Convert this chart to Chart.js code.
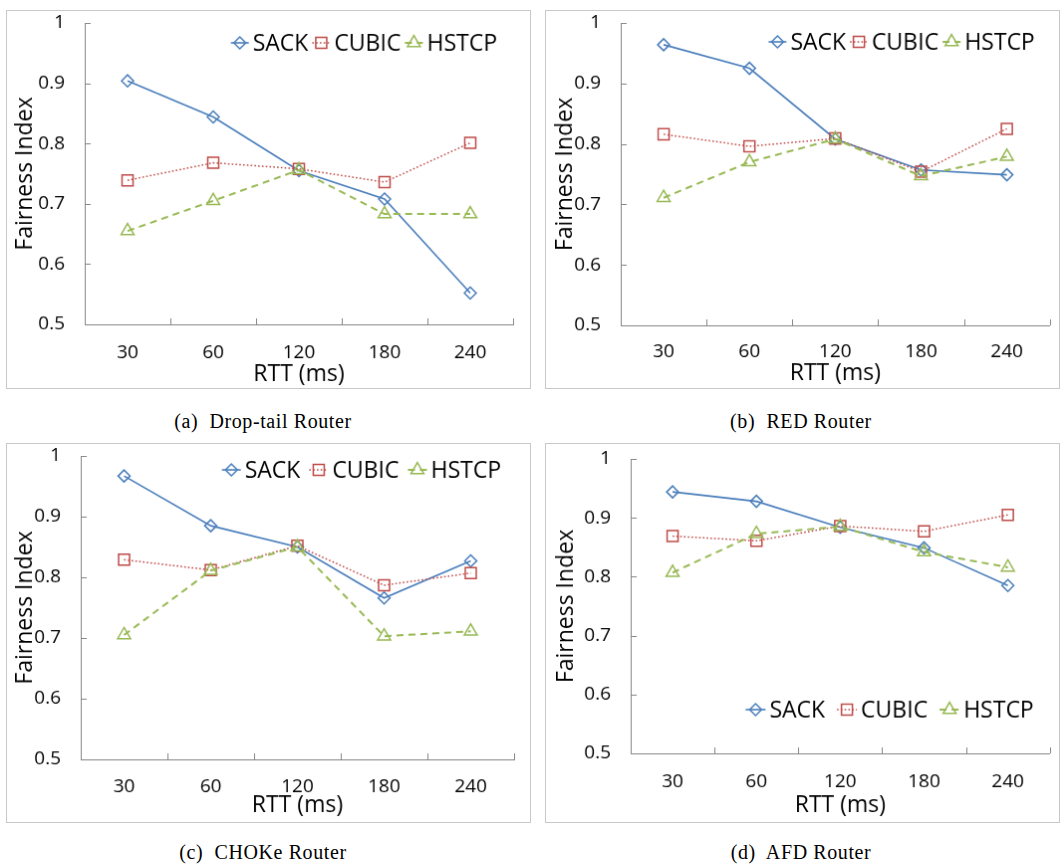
<!DOCTYPE html>
<html>
<head>
<meta charset="utf-8">
<script src="https://cdn.jsdelivr.net/npm/chart.js@4.4.1/dist/chart.umd.min.js"></script>
<style>
  html, body { margin: 0; padding: 0; background: #fff; }
  body { width: 1062px; height: 867px; position: relative; overflow: hidden; }
  canvas.panel { position: absolute; border: 1px solid #c8c8c8; }
  .cap { position: absolute; width: 400px; text-align: center; font-family: "Liberation Serif", "DejaVu Serif", serif;
         font-size: 20px; letter-spacing: 0.6px; color: #000; line-height: 24px; white-space: pre; }
</style>
</head>
<body>
<canvas class="panel" id="ca"></canvas>
<canvas class="panel" id="cb"></canvas>
<canvas class="panel" id="cc"></canvas>
<canvas class="panel" id="cd"></canvas>
<div class="cap" id="capa">(a)  Drop-tail Router</div>
<div class="cap" id="capb">(b)  RED Router</div>
<div class="cap" id="capc">(c)  CHOKe Router</div>
<div class="cap" id="capd">(d)  AFD Router</div>
<script>
// ---------------- DATA ----------------
const categories = ['30', '60', '120', '180', '240'];
const yTickLabels = ['0.5', '0.6', '0.7', '0.8', '0.9', '1'];
const seriesNames = ['SACK', 'CUBIC', 'HSTCP'];
const xAxisTitle = 'RTT (ms)';
const yAxisTitle = 'Fairness Index';

const dropTailSACK  = [0.904, 0.844, 0.755, 0.708, 0.552];
const dropTailCUBIC = [0.739, 0.768, 0.758, 0.736, 0.801];
const dropTailHSTCP = [0.655, 0.705, 0.756, 0.683, 0.683];

const redSACK  = [0.964, 0.925, 0.808, 0.757, 0.749];
const redCUBIC = [0.816, 0.796, 0.809, 0.754, 0.825];
const redHSTCP = [0.711, 0.770, 0.808, 0.747, 0.779];

const chokeSACK  = [0.967, 0.885, 0.850, 0.766, 0.827];
const chokeCUBIC = [0.829, 0.812, 0.852, 0.787, 0.807];
const chokeHSTCP = [0.705, 0.811, 0.850, 0.703, 0.711];

const afdSACK  = [0.944, 0.928, 0.884, 0.849, 0.785];
const afdCUBIC = [0.869, 0.861, 0.886, 0.877, 0.905];
const afdHSTCP = [0.807, 0.873, 0.885, 0.842, 0.816];

// ---------------- STYLE / LAYOUT ----------------
const seriesStyle = [
  { color: '#4A7EBB', dash: [],         width: 1.6, point: 'rectRot',  radius: 6   },
  { color: '#BE4B48', dash: [1.6, 2.2], width: 1.5, point: 'rect',     radius: 7.8 },
  { color: '#98B954', dash: [7, 5],     width: 2,   point: 'triangle', radius: 7.5 }
];

const panels = [
  { canvas: 'ca', cap: 'capa', capX: 263, capY: 421, frame: [6, 10, 527, 381],  area: [85, 23, 515, 326],
    legend: { pos: 'top', dy: 20, dx: 16, sym: 18, gap: 4 }, xLabelY: 355, xTitleY: 376, yTitleX: 25,
    data: [dropTailSACK, dropTailCUBIC, dropTailHSTCP] },
  { canvas: 'cb', cap: 'capb', capX: 801, capY: 421, frame: [545, 10, 517, 381], area: [621, 23, 1056, 327],
    legend: { pos: 'top', dy: 19, dx: 15, sym: 18, gap: 4 }, xLabelY: 354, xTitleY: 375, yTitleX: 565,
    data: [redSACK, redCUBIC, redHSTCP] },
  { canvas: 'cc', cap: 'capc', capX: 263, capY: 852, frame: [6, 443, 527, 382], area: [81, 456, 516, 761],
    legend: { pos: 'top', dy: 14, dx: 13, sym: 19, gap: 9 }, xLabelY: 789, xTitleY: 807, yTitleX: 25,
    data: [chokeSACK, chokeCUBIC, chokeHSTCP] },
  { canvas: 'cd', cap: 'capd', capX: 801, capY: 852, frame: [545, 443, 517, 382], area: [631, 459, 1055, 755],
    legend: { pos: 'bottom', dy: 44, dx: 16, sym: 20, gap: 12 }, xLabelY: 784, xTitleY: 807, yTitleX: 566,
    data: [afdSACK, afdCUBIC, afdHSTCP] }
];

const FONT = '"Open Sans", "Noto Sans", sans-serif';
const AXIS_COLOR = '#868686';

function drawMarker(ctx, style, x, y, r, bw, color) {
  ctx.save();
  ctx.strokeStyle = color;
  ctx.lineWidth = bw;
  ctx.setLineDash([]);
  ctx.beginPath();
  if (style === 'rectRot') {
    ctx.moveTo(x - r, y); ctx.lineTo(x, y - r); ctx.lineTo(x + r, y); ctx.lineTo(x, y + r); ctx.closePath();
  } else if (style === 'rect') {
    const s = r * Math.SQRT1_2;
    ctx.rect(x - s, y - s, 2 * s, 2 * s);
  } else {
    const a = 2 * Math.PI / 3;
    ctx.moveTo(x, y - r);
    ctx.lineTo(x + Math.sin(a) * r, y - Math.cos(a) * r);
    ctx.lineTo(x + Math.sin(2 * a) * r, y - Math.cos(2 * a) * r);
    ctx.closePath();
  }
  ctx.stroke();
  ctx.restore();
}

const innerLegend = {
  id: 'innerLegend',
  afterDraw(chart, args, opts) {
    const ctx = chart.ctx, area = chart.chartArea;
    ctx.save();
    ctx.font = '23px ' + FONT;
    const sym = opts.sym, gapText = 4, gapItem = opts.gap;
    const dsets = chart.data.datasets;
    const widths = dsets.map(ds => ctx.measureText(ds.label).width);
    const total = widths.reduce((s, w) => s + sym + gapText + w, 0) + gapItem * (dsets.length - 1);
    let x = area.right - opts.dx - total;
    const y = opts.pos === 'top' ? area.top + opts.dy : area.bottom - opts.dy;
    dsets.forEach((ds, i) => {
      ctx.save();
      ctx.strokeStyle = ds.borderColor;
      ctx.lineWidth = ds.borderWidth;
      ctx.setLineDash(ds.borderDash || []);
      ctx.beginPath();
      ctx.moveTo(x, y); ctx.lineTo(x + sym, y);
      ctx.stroke();
      ctx.restore();
      drawMarker(ctx, ds.pointStyle, x + sym / 2, y, ds.pointRadius, ds.pointBorderWidth, ds.borderColor);
      ctx.fillStyle = '#000';
      ctx.textAlign = 'left';
      ctx.textBaseline = 'middle';
      ctx.fillText(ds.label, x + sym + gapText, y + 1);
      x += sym + gapText + widths[i] + gapItem;
    });
    ctx.restore();
  }
};

const innerTicks = {
  id: 'innerTicks',
  beforeDatasetsDraw(chart) {
    const ctx = chart.ctx, a = chart.chartArea, xs = chart.scales.x, ys = chart.scales.y;
    ctx.save();
    ctx.strokeStyle = AXIS_COLOR;
    ctx.lineWidth = 1;
    ctx.beginPath();
    for (let k = 1; k <= categories.length; k++) {
      const px = Math.round(xs.getPixelForValue(k - 0.5)) + 0.5;
      ctx.moveTo(px, a.bottom); ctx.lineTo(px, a.bottom - 6);
    }
    ys.ticks.forEach(t => {
      const py = Math.round(ys.getPixelForValue(t.value)) + 0.5;
      ctx.moveTo(a.left, py); ctx.lineTo(a.left + 6, py);
    });
    ctx.stroke();
    ctx.restore();
  }
};

function build(p) {
  const cv = document.getElementById(p.canvas);
  const [fl, ft, fw, fh] = p.frame;
  const ox = fl + 1, oy = ft + 1, cw = fw - 2, ch = fh - 2;
  cv.style.left = fl + 'px';
  cv.style.top = ft + 'px';
  cv.width = cw; cv.height = ch;
  cv.style.width = cw + 'px'; cv.style.height = ch + 'px';

  const [al, at, ar, ab] = p.area;
  const L = al - ox, T = at - oy, R = cw - (ar - ox), XH = ch - (ab - oy);
  const tickFont = { family: FONT, size: 19, lineHeight: 1.2 };
  const titleFont = { family: FONT, size: 23, lineHeight: 1.0 };
  const xTickPad = (p.xLabelY - ab) - 19 * 1.2 / 2;
  const xTitlePad = (oy + ch) - p.xTitleY - 23 / 2;
  const yTitlePad = p.yTitleX - ox - 23 / 2;

  const datasets = p.data.map((vals, i) => {
    const s = seriesStyle[i];
    return {
      label: seriesNames[i],
      data: vals,
      borderColor: s.color,
      backgroundColor: 'rgba(0,0,0,0)',
      borderWidth: s.width,
      borderDash: s.dash,
      pointStyle: s.point,
      pointRadius: s.radius,
      pointHoverRadius: s.radius,
      pointBorderWidth: 1.5,
      pointBorderColor: s.color,
      pointBackgroundColor: 'rgba(0,0,0,0)',
      tension: 0,
      fill: false,
      order: 3 - i
    };
  });

  new Chart(cv, {
    type: 'line',
    data: { labels: categories, datasets },
    options: {
      responsive: false,
      animation: false,
      devicePixelRatio: 1,
      layout: { padding: { left: 0, top: T, right: R, bottom: 0 } },
      plugins: {
        legend: { display: false },
        tooltip: { enabled: false },
        innerLegend: p.legend
      },
      scales: {
        x: {
          type: 'category',
          offset: true,
          grid: { display: true, drawOnChartArea: false, drawTicks: false, offset: true, color: 'rgba(0,0,0,0)' },
          border: { display: true, color: AXIS_COLOR, width: 1 },
          ticks: { color: '#000', font: tickFont, padding: xTickPad, maxRotation: 0, autoSkip: false },
          title: { display: true, text: xAxisTitle, color: '#000', font: titleFont, padding: { top: 0, bottom: xTitlePad } },
          afterFit(scale) { scale.height = XH; scale.paddingLeft = 0; scale.paddingRight = 0; }
        },
        y: {
          min: 0.5, max: 1,
          ticks: { stepSize: 0.1, color: '#000', font: tickFont, padding: 20,
                   callback: (v, i) => yTickLabels[i] },
          grid: { display: true, drawOnChartArea: false, drawTicks: false, color: 'rgba(0,0,0,0)' },
          border: { display: true, color: AXIS_COLOR, width: 1 },
          title: { display: true, text: yAxisTitle, color: '#000', font: titleFont, padding: { top: yTitlePad, bottom: 0 } },
          afterFit(scale) { scale.width = L; scale.paddingTop = 0; scale.paddingBottom = 0; }
        }
      }
    },
    plugins: [innerTicks, innerLegend]
  });

  const cap = document.getElementById(p.cap);
  cap.style.left = (p.capX - 200) + 'px';
  cap.style.top = (p.capY - 12) + 'px';
}

function start() { panels.forEach(build); }
if (document.fonts && document.fonts.load) {
  Promise.all([
    document.fonts.load('19px "Open Sans"'),
    document.fonts.load('23px "Open Sans"'),
    document.fonts.load('20px "Liberation Serif"')
  ]).then(start, start);
} else {
  start();
}
</script>
</body>
</html>
